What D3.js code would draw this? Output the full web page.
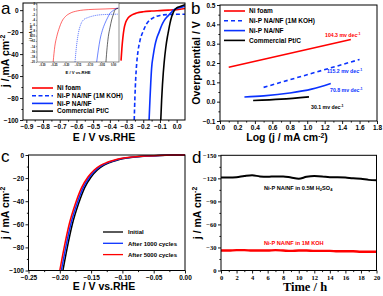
<!DOCTYPE html>
<html><head><meta charset="utf-8">
<script src="https://cdn.jsdelivr.net/npm/d3@7"></script>
<style>
body{margin:0;background:#fff}
svg{display:block}
text{font-family:"Liberation Sans",Arial,sans-serif;font-weight:bold}
</style></head>
<body><svg width="383" height="296"></svg>
<script>
// ---------- Panel a data ----------
const aNames = ["Ni foam","Ni-P NA/NF (1M KOH)","Ni-P NA/NF","Commercial Pt/C"];
const aColors = ["#ff0000","#0a32ff","#0a32ff","#000000"];
const aDash = [null,"4,2.5",null,null];
const aNiFoamE = [-0.333,-0.328,-0.322,-0.315,-0.305,-0.29,-0.27,-0.24,-0.2,-0.15,-0.1,-0.05,0,0.05];
const aNiFoamJ = [-46,-35,-25,-17,-11,-7,-4.5,-2.7,-1.5,-0.8,-0.4,0,0.5,1.5];
const aKohE = [-0.254,-0.25,-0.245,-0.24,-0.23,-0.22,-0.2,-0.18,-0.16,-0.14,-0.12,-0.1,-0.08,-0.05,0,0.05];
const aKohJ = [-100,-80,-62,-50,-36,-28,-19,-12.5,-9,-7,-5.6,-4.8,-4.3,-4,-3.8,-3.7];
const aNiPE = [-0.165,-0.16,-0.155,-0.15,-0.14,-0.13,-0.12,-0.105,-0.09,-0.075,-0.06,-0.05,-0.035,-0.02,0,0.025,0.05];
const aNiPJ = [-100,-82,-66,-53,-41,-32,-26,-20,-14,-9.5,-6.5,-5,-2.5,0,1.5,2.5,3.5];
const aPtE = [-0.095,-0.09,-0.085,-0.08,-0.075,-0.065,-0.055,-0.05,-0.04,-0.03,-0.02,-0.01,0,0.025,0.05];
const aPtJ = [-100,-82,-68,-57,-48,-34,-24,-20,-12,-6,-2,0.5,2,3.5,5];
const aXTicks = [-0.9,-0.8,-0.7,-0.6,-0.5,-0.4,-0.3,-0.2,-0.1,0.0];
const aYTicks = [0,-20,-40,-60,-80,-100];
// inset (low-current region)
const iNiFoamE = [-0.252,-0.245,-0.237,-0.226,-0.216,-0.2,-0.181,-0.15,-0.125,-0.08,-0.03,0.02];
const iNiFoamJ = [-20,-14,-10.4,-7,-4.7,-2.7,-1.5,-0.6,-0.26,0,0.15,0.35];
const iKohE = [-0.16,-0.155,-0.146,-0.137,-0.125,-0.105,-0.083,-0.041,0.02];
const iKohJ = [-20,-15,-9.1,-6,-4.05,-3.1,-2.5,-2.0,-1.85];
const iNiPE = [-0.069,-0.062,-0.055,-0.045,-0.034,-0.023,-0.013,0.0,0.008,0.022];
const iNiPJ = [-20,-15.5,-11.6,-8,-5.3,-3.2,-1.5,-0.5,0.1,0.5];
const iPtE = [-0.030,-0.025,-0.020,-0.013,-0.006,0.001,0.008,0.022];
const iPtJ = [-20,-14.5,-10.4,-7,-4.05,-2,-0.26,0.39];
const aInsetXTicks = [-0.30,-0.25,-0.20,-0.15,-0.10,-0.05,0.00];
const aInsetYTicks = [2,0,-2,-4,-6,-8,-10,-12,-14,-16,-18,-20];

// ---------- Panel b data ----------
const bNames = ["Ni foam","Ni-P NA/NF (1M KOH)","Ni-P NA/NF","Commercial Pt/C"];
const bSlopes = ["104.3","115.2","70.8","30.1"];
const bNiFoamX = [0.1,1.5], bNiFoamY = [0.178,0.322];
const bKohX = [0.5,1.6], bKohY = [0.074,0.218];
const bNiPX = [0.28,0.5,0.8,1.05,1.27], bNiPY = [0.024,0.03,0.045,0.065,0.094];
const bPtX = [0.38,0.7,1.02], bPtY = [0.006,0.013,0.025];
const bXTicks = [0,0.2,0.4,0.6,0.8,1.0,1.2,1.4,1.6,1.8];
const bYTicks = [-0.1,0,0.1,0.2,0.3,0.4,0.5];

// ---------- Panel c data ----------
const cNames = ["Initial","After 1000 cycles","After 5000 cycles"];
const cColors = ["#000000","#0a32ff","#ff0000"];
const cJ = [-100,-80,-60,-42,-28,-19,-13,-9,-6.5,-4.7,-3.3,-1.8,-0.9,-0.4,-0.1,0];
const cInitialE = [-0.195,-0.188,-0.180,-0.170,-0.160,-0.150,-0.140,-0.130,-0.120,-0.110,-0.100,-0.080,-0.060,-0.040,-0.020,0.0];
const c1000E = [-0.1975,-0.1905,-0.1825,-0.1725,-0.1625,-0.1525,-0.1425,-0.1325,-0.1225,-0.1125,-0.1025,-0.082,-0.062,-0.042,-0.021,0.0];
const c5000E = [-0.200,-0.193,-0.185,-0.175,-0.165,-0.155,-0.145,-0.135,-0.125,-0.115,-0.105,-0.084,-0.064,-0.043,-0.021,0.0];
const cXTicks = [-0.25,-0.20,-0.15,-0.10,-0.05,0.00];
const cYTicks = [0,-20,-40,-60,-80,-100];

// ---------- Panel d data ----------
const dTime = [0,1,2,3,4,5,6,7,8,9,10,11,12,13,14,15,16,17,18,19,20];
const dAcid = [-121,-121,-121.5,-123,-124,-122.5,-122,-122.5,-122.5,-121,-119.5,-122,-123,-122.5,-121.5,-121.5,-121,-120,-119.5,-118,-117.5];
const dKoh = [-26,-26,-26.5,-26.5,-26,-26,-26,-26.5,-26,-25.5,-26,-26,-25.5,-25.5,-25.5,-25,-25,-25,-24.5,-24.5,-24.5];
const dXTicks = [0,2,4,6,8,10,12,14,16,18,20];
const dYTicks = [0,-30,-60,-90,-120,-150];

const svg = d3.select("svg");
const FS = 6.5;

function axes(g, x, y, xt, yt, xm, ym, fx, fy, fam) {
  const [x0,x1] = x.range(), [y0,y1] = y.range();
  g.append("g").attr("transform",`translate(0,${y0})`)
    .call(d3.axisBottom(x).tickValues(xt).tickSize(3).tickPadding(1.5).tickFormat(fx));
  g.append("g").attr("transform",`translate(0,${y0})`)
    .call(d3.axisBottom(x).tickValues(xm).tickSize(1.6).tickFormat(""));
  g.append("g").attr("transform",`translate(${x0},0)`)
    .call(d3.axisLeft(y).tickValues(yt).tickSize(3).tickPadding(1.5).tickFormat(fy));
  g.append("g").attr("transform",`translate(${x0},0)`)
    .call(d3.axisLeft(y).tickValues(ym).tickSize(1.6).tickFormat(""));
  g.selectAll(".domain").remove();
  g.selectAll(".tick line").attr("stroke","#000").attr("stroke-width",0.9);
  g.selectAll(".tick text").attr("font-size",FS).attr("fill","#000")
    .style("font-family", fam || '"Liberation Sans",Arial,sans-serif').style("font-weight","bold");
  g.append("rect").attr("x",Math.min(x0,x1)).attr("y",Math.min(y0,y1))
    .attr("width",Math.abs(x1-x0)).attr("height",Math.abs(y1-y0))
    .attr("fill","none").attr("stroke","#000").attr("stroke-width",1);
}
function mid(t){const r=[];for(let i=0;i<t.length-1;i++)r.push((t[i]+t[i+1])/2);return r;}
function ytitle(x,y,main,sup,size){
  const t=svg.append("text").attr("transform",`translate(${x},${y}) rotate(-90)`)
    .attr("text-anchor","middle").attr("font-size",size);
  t.append("tspan").text(main);
  if(sup) t.append("tspan").attr("dy",-size*0.35).attr("font-size",size*0.65).text(sup);
  return t;
}
function label(x,y,s){svg.append("text").attr("x",x).attr("y",y).attr("font-size",17)
  .style("font-weight","normal").text(s);}
const fmt1 = d3.format(".1f"), fmt2 = d3.format(".2f");

// ================= Panel a =================
{
  const x = d3.scaleLinear().domain([-0.92,0.05]).range([23,185]);
  const y = d3.scaleLinear().domain([-100,6.5]).range([120,3]);
  const g = svg.append("g");
  svg.append("clipPath").attr("id","ca").append("rect")
    .attr("x",23).attr("y",3).attr("width",162).attr("height",117);
  const series = [[aNiFoamE,aNiFoamJ],[aKohE,aKohJ],[aNiPE,aNiPJ],[aPtE,aPtJ]];
  const line = d3.line().x(d=>x(d[0])).y(d=>y(d[1])).curve(d3.curveMonotoneX);
  series.forEach((s,i)=>{
    g.append("path").attr("clip-path","url(#ca)")
      .datum(s[0].map((e,k)=>[e,s[1][k]]))
      .attr("d",line).attr("fill","none").attr("stroke",aColors[i])
      .attr("stroke-width",1.6).attr("stroke-dasharray",aDash[i]);
  });
  axes(g,x,y,aXTicks,aYTicks,mid(aXTicks),mid(aYTicks),d=>fmt1(d).replace("-0.0","0.0"),d3.format("d"));
  aNames.forEach((n,i)=>{
    const yy = 88 + i*7.7;
    g.append("line").attr("x1",32).attr("x2",53).attr("y1",yy).attr("y2",yy)
      .attr("stroke",aColors[i]).attr("stroke-width",1.6).attr("stroke-dasharray",aDash[i]);
    g.append("text").attr("x",57).attr("y",yy+2.3).attr("font-size",FS).text(n);
  });
  // inset
  const ix = d3.scaleLinear().domain([-0.32,0.025]).range([37,119]);
  const iy = d3.scaleLinear().domain([-20,2.4]).range([62,3]);
  const ig = svg.append("g");
  ig.append("rect").attr("x",37).attr("y",3).attr("width",82).attr("height",59).attr("fill","#fff");
  svg.append("clipPath").attr("id","ci").append("rect").attr("x",37).attr("y",3).attr("width",82).attr("height",59);
  const iline = d3.line().x(d=>ix(d[0])).y(d=>iy(d[1])).curve(d3.curveMonotoneX);
  const iseries = [[iNiFoamE,iNiFoamJ],[iKohE,iKohJ],[iNiPE,iNiPJ],[iPtE,iPtJ]];
  iseries.forEach((s,i)=>{
    ig.append("path").attr("clip-path","url(#ci)")
      .datum(s[0].map((e,k)=>[e,s[1][k]]))
      .attr("d",iline).attr("fill","none").attr("stroke",aColors[i])
      .attr("stroke-width",0.6).attr("stroke-dasharray",i===1?"1.2,0.8":null);
  });
  ig.append("g").attr("transform","translate(0,62)")
    .call(d3.axisBottom(ix).tickValues(aInsetXTicks).tickSize(1.2).tickPadding(0.8).tickFormat(fmt2));
  ig.append("g").attr("transform","translate(37,0)")
    .call(d3.axisLeft(iy).tickValues(aInsetYTicks).tickSize(1.2).tickPadding(0.8).tickFormat(d3.format("d")));
  ig.selectAll(".domain").remove();
  ig.selectAll(".tick line").attr("stroke","#000").attr("stroke-width",0.4);
  ig.selectAll(".tick text").attr("font-size",2.6).attr("fill","#000");
  ig.append("rect").attr("x",37).attr("y",3).attr("width",82).attr("height",59)
    .attr("fill","none").attr("stroke","#444").attr("stroke-width",0.6);
  ig.append("text").attr("x",78).attr("y",74).attr("text-anchor","middle").attr("font-size",4.2).text("E / V vs.RHE");
  const it = ig.append("text").attr("transform","translate(32,32) rotate(-90)").attr("text-anchor","middle").attr("font-size",3.6);
  it.append("tspan").text("j / mA cm"); it.append("tspan").attr("dy",-1.2).attr("font-size",2.4).text("-2");
  svg.append("text").attr("x",104).attr("y",141).attr("text-anchor","middle").attr("font-size",10.5).text("E / V vs.RHE");
  ytitle(9,61,"j / mA cm","-2",10.5);
  label(1,14,"a");
}

// ================= Panel b =================
{
  const x = d3.scaleLinear().domain([0,1.8]).range([220,377]);
  const y = d3.scaleLinear().domain([-0.1,0.5]).range([121,5]);
  const g = svg.append("g");
  const line = d3.line().x(d=>x(d[0])).y(d=>y(d[1])).curve(d3.curveMonotoneX);
  const series = [[bNiFoamX,bNiFoamY],[bKohX,bKohY],[bNiPX,bNiPY],[bPtX,bPtY]];
  series.forEach((s,i)=>{
    g.append("path").datum(s[0].map((v,k)=>[v,s[1][k]])).attr("d",line)
      .attr("fill","none").attr("stroke",aColors[i]).attr("stroke-width",1.6)
      .attr("stroke-dasharray",aDash[i]? "4,3":null);
  });
  axes(g,x,y,bXTicks,bYTicks,mid(bXTicks),mid(bYTicks),fmt1,d=>fmt1(d));
  bNames.forEach((n,i)=>{
    const yy = 11 + i*9.8;
    g.append("line").attr("x1",224).attr("x2",245).attr("y1",yy).attr("y2",yy)
      .attr("stroke",aColors[i]).attr("stroke-width",1.6).attr("stroke-dasharray",aDash[i]?"4,3":null);
    g.append("text").attr("x",249).attr("y",yy+2.3).attr("font-size",FS).text(n);
  });
  const sl = [[325,37],[327,73],[330,92],[311,109]];
  bSlopes.forEach((s,i)=>{
    const t = g.append("text").attr("x",sl[i][0]).attr("y",sl[i][1]).attr("font-size",5.2).attr("fill",aColors[i]);
    t.append("tspan").text(s+" mv dec");
    t.append("tspan").attr("dy",-1.8).attr("font-size",3.6).text("-1");
  });
  const xt = svg.append("text").attr("x",287).attr("y",141).attr("text-anchor","middle").attr("font-size",10.5);
  xt.append("tspan").text("Log (j / mA cm");
  xt.append("tspan").attr("dy",-3.5).attr("font-size",6.8).text("-2");
  xt.append("tspan").attr("dy",3.5).text(")");
  ytitle(200,63,"Overpotential / V",null,10.5);
  label(191,14,"b");
}

// ================= Panel c =================
{
  const x = d3.scaleLinear().domain([-0.25,0]).range([28.5,185]);
  const y = d3.scaleLinear().domain([-100,0]).range([270.5,155]);
  const g = svg.append("g");
  const line = d3.line().x(d=>x(d[0])).y(d=>y(d[1])).curve(d3.curveMonotoneX);
  [cInitialE,c1000E,c5000E].forEach((e,i)=>{
    g.append("path").datum(e.map((v,k)=>[v,cJ[k]])).attr("d",line)
      .attr("fill","none").attr("stroke",cColors[i]).attr("stroke-width",1.5);
  });
  axes(g,x,y,cXTicks,cYTicks,mid(cXTicks),mid(cYTicks),d=>fmt2(d).replace("-0.00","0.00"),d3.format("d"));
  cNames.forEach((n,i)=>{
    const yy = 232 + i*11.3;
    g.append("line").attr("x1",103).attr("x2",123).attr("y1",yy).attr("y2",yy)
      .attr("stroke",cColors[i]).attr("stroke-width",1.3);
    g.append("text").attr("x",128).attr("y",yy+2.2).attr("font-size",FS-0.5).text(n);
  });
  svg.append("text").attr("x",104).attr("y",290).attr("text-anchor","middle").attr("font-size",10.5).text("E / V vs.RHE");
  ytitle(9,213,"j / mA cm","-2",10.5);
  label(1,162,"c");
}

// ================= Panel d =================
{
  const x = d3.scaleLinear().domain([0,20]).range([221,376.5]);
  const y = d3.scaleLinear().domain([0,-150]).range([270.5,155.3]);
  const g = svg.append("g");
  const line = d3.line().x((d,i)=>x(dTime[i])).y(d=>y(d)).curve(d3.curveMonotoneX);
  g.append("path").datum(dAcid).attr("d",line).attr("fill","none").attr("stroke","#000").attr("stroke-width",2);
  g.append("path").datum(dKoh).attr("d",line).attr("fill","none").attr("stroke","#ff0000").attr("stroke-width",2.4);
  const serif = '"Liberation Serif","Times New Roman",serif';
  axes(g,x,y,dXTicks,dYTicks,mid(dXTicks),mid(dYTicks),d3.format("d"),d3.format("d"),serif);
  const t = g.append("text").attr("x",264).attr("y",190).attr("font-size",5.6);
  t.append("tspan").text("Ni-P NA/NF in 0.5M H");
  t.append("tspan").attr("font-size",4).attr("dy",1).text("2");
  t.append("tspan").attr("dy",-1).text("SO");
  t.append("tspan").attr("font-size",4).attr("dy",1).text("4");
  g.append("text").attr("x",264).attr("y",245).attr("font-size",5.6).attr("fill","#ff0000").text("Ni-P NA/NF in 1M KOH");
  svg.append("text").attr("x",305).attr("y",291).attr("text-anchor","middle").attr("font-size",12.5)
    .style("font-family",serif).text("Time / h");
  ytitle(201,213,"j / mA cm","-2",10.5);
  label(192,163,"d");
}
</script></body></html>
